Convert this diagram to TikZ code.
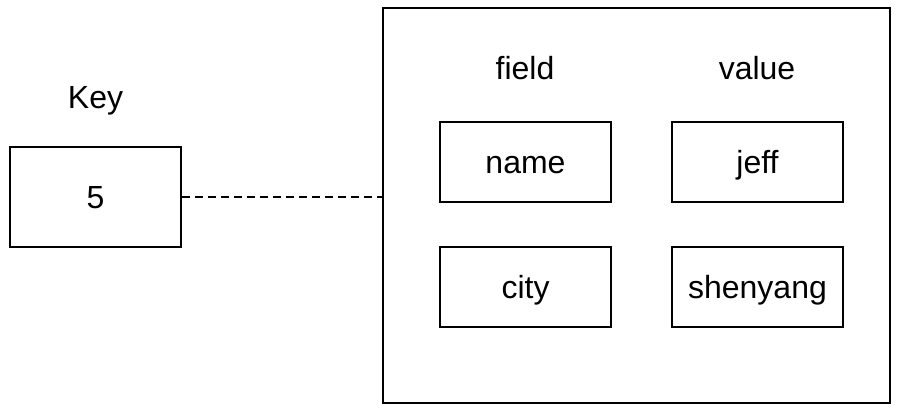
\documentclass[tikz,border=0pt]{standalone}
\usepackage{fontspec}
\setmainfont{Liberation Sans}
\begin{document}
\begin{tikzpicture}[x=1pt,y=-1pt,
  txt/.style={inner sep=0pt,text height=23pt,text depth=0pt,font=\fontsize{32}{38}\selectfont},
  box/.style={txt,draw,line width=2pt,minimum width=171pt,minimum height=80pt},
  lbl/.style={txt}]
\useasboundingbox (0,0) rectangle (898,416);
\node[box,minimum height=100pt] (k) at (95.5,196.5) {5};
\node[lbl] (kl) at (95.5,96.5) {Key};
\node[draw,line width=2pt,minimum width=507pt,minimum height=395pt,inner sep=0pt] (big) at (636.5,205.5) {};
\node[lbl] (fl) at (525,67.5) {field};
\node[lbl] (vl) at (757,67.5) {value};
\node[box] (n) at (525.5,162) {name};
\node[box] (j) at (757.5,162) {jeff};
\node[box] (c) at (525.5,287) {city};
\node[box] (s) at (757.5,287) {shenyang};
\draw[line width=2pt,dash pattern=on 8pt off 5pt] (k.east) -- (k.east -| big.west);
\end{tikzpicture}
\end{document}
